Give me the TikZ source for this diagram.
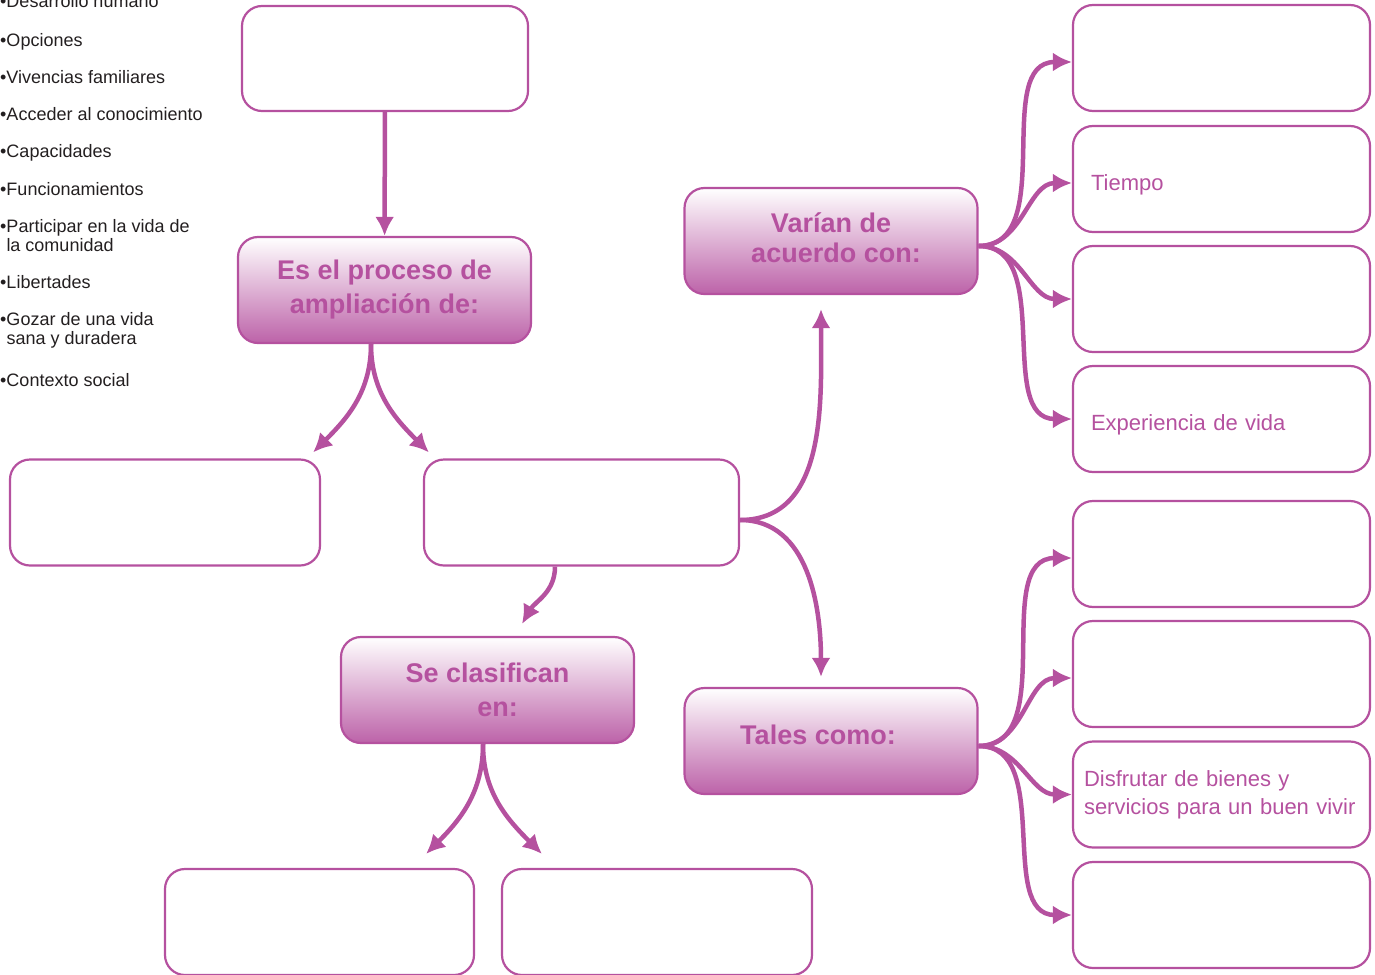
\documentclass[tikz,border=0pt]{standalone}
\usepackage{fontspec}
\setmainfont{Liberation Sans}
\usetikzlibrary{arrows.meta, positioning}
\definecolor{mag}{HTML}{B5519F}
\definecolor{ink}{HTML}{231F20}
\tikzset{
    x=1pt, y=1pt,
    box/.style={
        draw=mag,
        line width=2.2pt,
        rounded corners=20pt,
        inner sep=0pt,
        minimum height=106pt
    },
    keybox/.style={
        box,
        minimum width=293pt,
        top color=white,
        middle color=mag!6,
        bottom color=mag!90,
        text=mag,
        align=center,
        font=\fontsize{27}{34}\selectfont\bfseries
    },
    answer/.style={
        box,
        minimum width=297pt,
        text width=261pt,
        align=left,
        text=mag,
        font=\fontsize{22}{28}\selectfont
    },
    item/.style={
        anchor=base west,
        inner sep=0pt,
        align=left,
        text=ink,
        font=\fontsize{18}{19}\selectfont
    },
    link/.style={
        draw=mag,
        line width=4.5pt,
        -{Latex[length=19pt,width=19pt]}
    }
}

\begin{document}
\begin{tikzpicture}
    \useasboundingbox (0,0) rectangle (1375,-974);

    % word list
    \node[item] (w1) at (0,-8) {\textbullet Desarrollo humano};
    \node[item] (w2) at (0,-46.5) {\textbullet Opciones};
    \node[item] (w3) at (0,-83.5) {\textbullet Vivencias familiares};
    \node[item] (w4) at (0,-120.5) {\textbullet Acceder al conocimiento};
    \node[item] (w5) at (0,-157.5) {\textbullet Capacidades};
    \node[item] (w6) at (0,-195) {\textbullet Funcionamientos};
    \node[item] (w7) at (0,-251) {\textbullet Participar en la vida de\\\hphantom{\textbullet}la comunidad};
    \node[item] (w8) at (0,-288.5) {\textbullet Libertades};
    \node[item] (w9) at (0,-344) {\textbullet Gozar de una vida\\\hphantom{\textbullet}sana y duradera};
    \node[item] (w10) at (0,-386) {\textbullet Contexto social};

    % left branch
    \node[box, minimum width=286pt, minimum height=105pt] (top) at (385,-58.5) {};
    \node[keybox] (proc) at (384.5,-290) {Es el proceso de\\ampliación de:};
    \node[box, minimum width=310pt] (opt1) at (165,-512.5) {};
    \node[box, minimum width=315pt] (opt2) at (581.5,-512.5) {};
    \node[keybox] (clas) at (487.5,-690) {Se clasifican\\\hspace*{20pt}en:};
    \node[box, minimum width=309pt] (kind1) at (319.5,-922) {};
    \node[box, minimum width=310pt] (kind2) at (657,-922) {};

    % right branch
    \node[keybox, font=\fontsize{27}{30}\selectfont\bfseries] (var) at (831,-241)
        {\raisebox{10pt}{\begin{tabular}{@{}c@{}}Varían de\\\hspace*{10pt}acuerdo con:\end{tabular}}};
    \node[keybox] (tal) at (831,-741) {Tales como:\rule[-13pt]{0pt}{1pt}\hspace*{26pt}};

    \node[answer] (v1) at (1221.5,-58) {};
    \node[answer] (v2) at (1221.5,-179) {\rule{0pt}{28pt}Tiempo};
    \node[answer] (v3) at (1221.5,-299) {};
    \node[answer] (v4) at (1221.5,-419) {\rule{0pt}{28pt}Experiencia de vida};
    \node[answer] (t1) at (1221.5,-554) {};
    \node[answer] (t2) at (1221.5,-674) {};
    \node[answer, text width=275pt] (t3) at (1221.5,-794.5) {Disfrutar de bienes y\\servicios para un buen vivir};
    \node[answer] (t4) at (1221.5,-915) {};

    \draw
    (top) edge[link] (proc)
    ([xshift=-13.5pt]proc.south) edge[link, out=-90, in=45] ([xshift=-8pt,yshift=6pt]opt1.north east)
    ([xshift=-13.5pt]proc.south) edge[link, out=-90, in=135] ([xshift=6pt,yshift=6pt]opt2.north west)
    ([xshift=-26.5pt]opt2.south) edge[link, out=-90, in=60] ([xshift=34.5pt,yshift=12pt]clas.north)
    ([xshift=-4.5pt]clas.south) edge[link, out=-90, in=45] ([xshift=-49pt,yshift=14pt]kind1.north east)
    ([xshift=-4.5pt]clas.south) edge[link, out=-90, in=135] ([xshift=41pt,yshift=14pt]kind2.north west)
    ([yshift=-7.5pt]opt2.east) edge[link, out=0, in=-90] ([xshift=-10pt,yshift=-14pt]var.south)
    ([yshift=-7.5pt]opt2.east) edge[link, out=0, in=90] ([xshift=-10pt,yshift=10pt]tal.north);

    \draw
    ([yshift=-5pt]var.east) edge[link, out=0, in=180] ([yshift=-4pt]v1.west)
    ([yshift=-5pt]var.east) edge[link, out=0, in=180] ([yshift=-4pt]v2.west)
    ([yshift=-5pt]var.east) edge[link, out=0, in=180] (v3.west)
    ([yshift=-5pt]var.east) edge[link, out=0, in=180] (v4.west)
    ([yshift=-5pt]tal.east) edge[link, out=0, in=180] ([yshift=-4pt]t1.west)
    ([yshift=-5pt]tal.east) edge[link, out=0, in=180] ([yshift=-4pt]t2.west)
    ([yshift=-5pt]tal.east) edge[link, out=0, in=180] (t3.west)
    ([yshift=-5pt]tal.east) edge[link, out=0, in=180] (t4.west);
\end{tikzpicture}
\end{document}
